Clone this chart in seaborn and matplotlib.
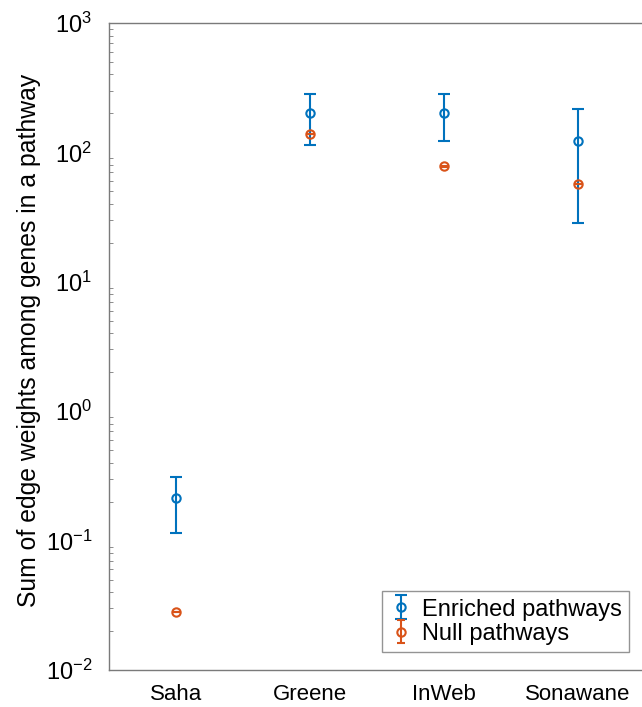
import numpy as np
import pandas as pd
import matplotlib
matplotlib.use("Agg")
import matplotlib.pyplot as plt
import seaborn as sns

# data (log scale)
networks = ["Saha", "Greene", "InWeb", "Sonawane"]
enriched_mid = [0.213, 201, 203, 122]
enriched_lo = [0.115, 114, 122, 28.5]
enriched_hi = [0.31, 285, 281, 216]
null_mid = [0.028, 139, 78, 57]
null_lo = [0.0279, 138.5, 77.7, 56.8]
null_hi = [0.0281, 139.5, 78.3, 57.2]

sns.set_style("white")
plt.rcParams["font.family"] = ["Liberation Sans", "DejaVu Sans"]
plt.rcParams["mathtext.default"] = "regular"
plt.rcParams["axes.unicode_minus"] = False
plt.rcParams["text.color"] = "black"
plt.rcParams["axes.labelcolor"] = "black"

blue = "#0072BD"
orange = "#D95319"
gray = "#7a7a7a"

fig = plt.figure(figsize=(6.42, 7.07), dpi=100)
ax = fig.add_axes([109 / 642, 37 / 707, 536 / 642, 647 / 707])

df = pd.DataFrame({"network": networks, "pos": np.arange(1, len(networks) + 1),
                   "e_mid": enriched_mid, "e_lo": enriched_lo, "e_hi": enriched_hi,
                   "n_mid": null_mid, "n_lo": null_lo, "n_hi": null_hi})

style = dict(fmt="o", markersize=6, markerfacecolor="none", markeredgewidth=1.5,
             elinewidth=1.5, capthick=1.5)

ax.errorbar(df["pos"], df["e_mid"],
            yerr=[df["e_mid"] - df["e_lo"], df["e_hi"] - df["e_mid"]],
            color=blue, label="Enriched pathways", capsize=4, **style)
ax.errorbar(df["pos"], df["n_mid"],
            yerr=[df["n_mid"] - df["n_lo"], df["n_hi"] - df["n_mid"]],
            color=orange, label="Null pathways", capsize=3, **style)

ax.set_yscale("log")
ax.set_ylim(1e-2, 1e3)
ax.set_xlim(0.5, 4.5)
ax.set_xticks(df["pos"])
ax.set_xticklabels(networks)
ax.set_ylabel("Sum of edge weights among genes in a pathway", fontsize=17.8)
ax.yaxis.set_label_coords(-0.127, 0.51)

for side in ["left", "bottom", "top", "right"]:
    ax.spines[side].set_color(gray)
    ax.spines[side].set_linewidth(1.0)
ax.tick_params(axis="both", which="both", direction="in", color=gray,
               labelcolor="black", top=False, right=False)
ax.tick_params(axis="y", which="major", length=6, pad=12, labelsize=17)
ax.tick_params(axis="y", which="minor", length=3, left=True)
ax.tick_params(axis="x", which="major", length=6, pad=10, labelsize=16)
ax.yaxis.set_minor_locator(matplotlib.ticker.LogLocator(base=10, subs=np.arange(2, 10)))
ax.yaxis.set_minor_formatter(matplotlib.ticker.NullFormatter())

leg = ax.legend(loc="lower right", fontsize=17, frameon=True, fancybox=False,
                edgecolor=gray, borderpad=0.3, handletextpad=0.4, borderaxespad=0,
                handlelength=1.0, labelspacing=0.1,
                bbox_to_anchor=((629 - 109) / 536, (670 - 652) / 647))
leg.get_frame().set_linewidth(1.0)

fig.savefig("out.png", dpi=100)
